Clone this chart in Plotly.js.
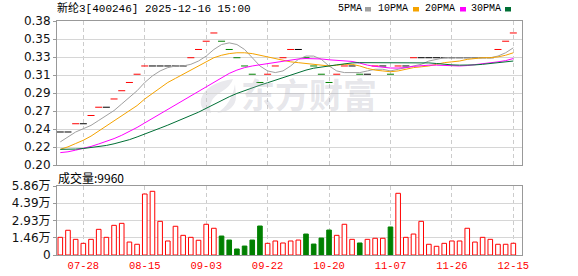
<!DOCTYPE html>
<html>
<head>
<meta charset="utf-8">
<script src="https://cdn.plot.ly/plotly-3.0.1.min.js"></script>
<style>html,body{margin:0;padding:0;background:#fff}#chart{width:578px;height:276px}</style>
</head>
<body>
<div id="chart"></div>
<script>
// ---------- data ----------
const dates = ['07-21','07-23','07-25','07-28','07-30','08-01','08-04','08-06','08-08','08-11',
  '08-13','08-15','08-18','08-20','08-22','08-25','08-27','08-29','09-01','09-03',
  '09-05','09-08','09-10','09-12','09-15','09-17','09-19','09-22','09-24','09-26',
  '09-29','10-10','10-13','10-15','10-17','10-20','10-22','10-24','10-27','10-29',
  '10-31','11-03','11-05','11-07','11-10','11-12','11-14','11-17','11-19','11-21',
  '11-24','11-26','11-28','12-01','12-03','12-05','12-08','12-10','12-12','12-15'];
const closes = [0.24,0.24,0.25,0.25,0.26,0.27,0.27,0.28,0.29,0.30,
  0.31,0.32,0.32,0.32,0.32,0.32,0.32,0.33,0.34,0.35,
  0.36,0.35,0.34,0.33,0.32,0.31,0.30,0.31,0.32,0.33,
  0.34,0.34,0.33,0.32,0.31,0.30,0.31,0.32,0.32,0.31,
  0.31,0.32,0.32,0.31,0.32,0.32,0.33,0.33,0.33,0.33,
  0.33,0.33,0.33,0.33,0.33,0.33,0.33,0.34,0.35,0.36];
const prevClose = 0.24;
const volumes = [15000,21000,13300,9900,13300,21800,15000,25200,26900,11000,
  9100,51800,54100,28600,11900,24400,16700,15000,12500,26100,
  22700,16100,12700,5100,7600,12700,24600,9900,11900,10200,
  11900,12700,17800,9300,14400,21200,16700,26100,13300,10200,
  13300,14200,14200,23800,52400,15000,17800,28600,9100,7400,
  9900,11900,11900,22700,11000,15000,13300,9100,9100,9960];
const ma5 = [0.228,0.234,0.240,0.244,0.248,0.254,0.260,0.266,0.274,0.282,
  0.290,0.300,0.308,0.314,0.318,0.320,0.320,0.322,0.326,0.332,
  0.340,0.346,0.348,0.346,0.340,0.330,0.320,0.314,0.312,0.314,
  0.320,0.328,0.332,0.332,0.328,0.320,0.314,0.312,0.312,0.312,
  0.314,0.316,0.316,0.314,0.316,0.318,0.320,0.322,0.326,0.328,
  0.330,0.330,0.330,0.330,0.330,0.330,0.330,0.332,0.336,0.342];
const ma10 = [0.219,0.222,0.226,0.230,0.235,0.241,0.247,0.253,0.259,0.265,
  0.272,0.280,0.287,0.294,0.300,0.305,0.310,0.315,0.320,0.325,
  0.330,0.333,0.335,0.336,0.336,0.335,0.333,0.331,0.329,0.327,
  0.325,0.324,0.323,0.322,0.321,0.320,0.321,0.322,0.322,0.320,
  0.317,0.315,0.314,0.313,0.314,0.316,0.318,0.319,0.320,0.322,
  0.324,0.325,0.326,0.328,0.329,0.330,0.330,0.331,0.333,0.336];
const ma20 = [0.215,0.216,0.218,0.220,0.2225,0.2255,0.2285,0.232,0.236,0.2405,
  0.2455,0.251,0.2565,0.262,0.2675,0.273,0.2785,0.284,0.2895,0.295,
  0.301,0.3065,0.311,0.315,0.318,0.320,0.3215,0.323,0.3245,0.326,
  0.3275,0.3285,0.329,0.329,0.3285,0.3275,0.327,0.3265,0.3255,0.3235,
  0.321,0.3195,0.3185,0.3175,0.3175,0.318,0.3195,0.3205,0.321,0.321,
  0.3205,0.320,0.320,0.3205,0.3215,0.323,0.324,0.325,0.3265,0.329];
const ma30 = [0.219,0.219,0.2193,0.220,0.221,0.2223,0.2237,0.2257,0.228,0.2307,
  0.234,0.2373,0.241,0.2447,0.2483,0.252,0.2557,0.2597,0.264,0.2687,
  0.2737,0.2783,0.2827,0.2867,0.2903,0.2937,0.2967,0.2997,0.3027,0.3057,
  0.309,0.3123,0.315,0.3173,0.319,0.320,0.3213,0.3227,0.3237,0.324,
  0.324,0.324,0.324,0.3237,0.3237,0.3237,0.324,0.324,0.3237,0.323,
  0.322,0.3213,0.321,0.321,0.3213,0.322,0.323,0.324,0.325,0.326];
const tickDates = ['07-28','08-15','09-03','09-22','10-20','11-07','11-26','12-15'];
const priceTickText = ['0.20','0.22','0.24','0.27','0.29','0.31','0.33','0.35','0.38'];
const volTickText = ['0','1.46万','2.93万','4.39万','5.86万'];
const maNames = ['5PMA','10PMA','20PMA','30PMA'];
const titleText = '新纶3[400246] 2025-12-16 15:00';
const volLabel = '成交量:9960';
const watermark = '东方财富';

// ---------- styling / construction ----------
const RED = '#ff0000', GREEN = '#008000', BLACK = '#000000';
const maColors = ['#a0a0a0', '#f5a300', '#ff00ff', '#006f35'];
const priceMin = 0.200, priceMax = 0.3745;
const volMax = 58600;
const idx = dates.map((d, i) => i);
const tickIdx = tickDates.map(d => dates.indexOf(d));

const dir = closes.map((c, i) => {
  const p = i === 0 ? prevClose : closes[i - 1];
  return c > p ? 1 : (c < p ? -1 : 0);
});
const candleColors = dir.map(d => d > 0 ? RED : (d < 0 ? GREEN : BLACK));
const volFill = dir.map(d => d < 0 ? GREEN : '#ffffff');
const volLine = dir.map(d => d < 0 ? GREEN : RED);

const priceTickVals = priceTickText.map((t, k) => priceMin + k * (priceMax - priceMin) / 8);
const volTickVals = volTickText.map((t, k) => k * volMax / 4);

const traces = [
  {x: idx, y: closes, type: 'scatter', mode: 'markers', xaxis: 'x', yaxis: 'y',
   marker: {symbol: 'line-ew', size: 5, color: candleColors, line: {width: 1, color: candleColors}},
   hoverinfo: 'skip'}
];
[ma5, ma10, ma20, ma30].forEach((arr, k) => {
  traces.push({x: idx, y: arr, type: 'scatter', mode: 'lines', xaxis: 'x', yaxis: 'y',
    line: {width: 1, color: maColors[k]}, hoverinfo: 'skip', name: maNames[k]});
});
traces.push({x: idx, y: volumes, type: 'bar', xaxis: 'x2', yaxis: 'y2', width: 0.6,
  marker: {color: volFill, line: {width: 1, color: volLine}}, hoverinfo: 'skip'});

const L = 57, R = 56, T = 21, B = 21, W = 578, H = 276;
const pw = W - L - R, ph = H - T - B;
const PX = px => (px - L) / pw;
const PY = py => (H - B - py) / ph;

const xCommon = {range: [-0.43, 60.13], tickvals: tickIdx, showgrid: true,
  gridcolor: '#cccccc', griddash: '4px,3px', gridwidth: 1, zeroline: false,
  showline: true, mirror: true, linecolor: '#999999', linewidth: 1, ticks: '', fixedrange: true};

const annotations = [
  {text: titleText, xref: 'paper', yref: 'paper', x: PX(55), y: PY(8.5), xanchor: 'left', yanchor: 'middle',
   showarrow: false, font: {family: 'Liberation Mono, Noto Sans CJK SC', size: 11, color: '#000'}},
  {text: volLabel, xref: 'paper', yref: 'paper', x: PX(56), y: PY(177), xanchor: 'left', yanchor: 'middle',
   showarrow: false, font: {family: 'Noto Sans CJK SC', size: 12, color: '#000'}},
  {text: watermark, xref: 'paper', yref: 'paper', x: PX(309), y: PY(93), xanchor: 'center', yanchor: 'middle',
   showarrow: false, font: {family: 'Noto Sans CJK SC', size: 34, weight: 700, color: 'rgba(170,170,185,0.30)'}}
];
const legendTextRight = [364, 410, 457, 503];
const legendSquare = [365, 413, 460, 505];
const shapes = [];
maNames.forEach((n, k) => {
  annotations.push({text: n, xref: 'paper', yref: 'paper', x: PX(legendTextRight[k]), y: PY(9),
    xanchor: 'right', yanchor: 'middle', showarrow: false,
    font: {family: 'Liberation Mono', size: 10, color: '#000'}});
  shapes.push({type: 'rect', xref: 'paper', yref: 'paper', x0: PX(legendSquare[k]), x1: PX(legendSquare[k] + 6),
    y0: PY(11.5), y1: PY(7), fillcolor: maColors[k], line: {width: 0}});
});
// watermark logo (light leaf swirl), drawn under the data
const P = (x, y) => PX(x).toFixed(4) + ',' + PY(y).toFixed(4);
shapes.push({type: 'path', xref: 'paper', yref: 'paper', layer: 'between', line: {width: 0}, fillcolor: '#e9e9ed',
  path: 'M' + P(233, 79) + ' Q' + P(206, 83) + ' ' + P(201, 99) + ' Q' + P(199, 110) + ' ' + P(211, 113) +
        ' Q' + P(207, 100) + ' ' + P(221, 92) + ' Q' + P(231, 86) + ' ' + P(233, 79) + ' Z'});
shapes.push({type: 'path', xref: 'paper', yref: 'paper', layer: 'between', line: {width: 0}, fillcolor: '#e9e9ed',
  path: 'M' + P(235, 84) + ' Q' + P(232, 104) + ' ' + P(217, 113) + ' Q' + P(236, 111) + ' ' + P(236, 96) + ' Z'});

const layout = {
  width: W, height: H, margin: {l: L, r: R, t: T, b: B, pad: 0},
  paper_bgcolor: '#ffffff', plot_bgcolor: '#ffffff', showlegend: false,
  bargap: 0,
  xaxis: Object.assign({}, xCommon, {anchor: 'y', domain: [0, 1], showticklabels: false}),
  xaxis2: Object.assign({}, xCommon, {anchor: 'y2', domain: [0, 1], showticklabels: true,
    ticktext: tickDates, tickfont: {family: 'Liberation Mono', size: 10.5, color: '#ff0000'}}),
  yaxis: {domain: [PY(165), 1], range: [priceMin, priceMax], tickvals: priceTickVals, ticktext: priceTickText,
    showgrid: true, gridcolor: '#d6d6d6', zeroline: false, showline: true, mirror: true,
    linecolor: '#999999', ticks: 'outside', ticklen: 3, tickcolor: '#999999',
    tickfont: {family: 'DejaVu Sans', size: 12, color: '#111'}, fixedrange: true},
  yaxis2: {domain: [0, PY(186)], range: [0, volMax], tickvals: volTickVals, ticktext: volTickText,
    showgrid: true, gridcolor: '#d6d6d6', zeroline: false, showline: true, mirror: true,
    linecolor: '#999999', ticks: 'outside', ticklen: 3, tickcolor: '#999999',
    tickfont: {family: 'DejaVu Sans, Noto Sans CJK SC', size: 12, color: '#111'}, fixedrange: true},
  annotations: annotations,
  shapes: shapes
};

Plotly.newPlot('chart', traces, layout, {staticPlot: true, displayModeBar: false});
</script>
</body>
</html>
